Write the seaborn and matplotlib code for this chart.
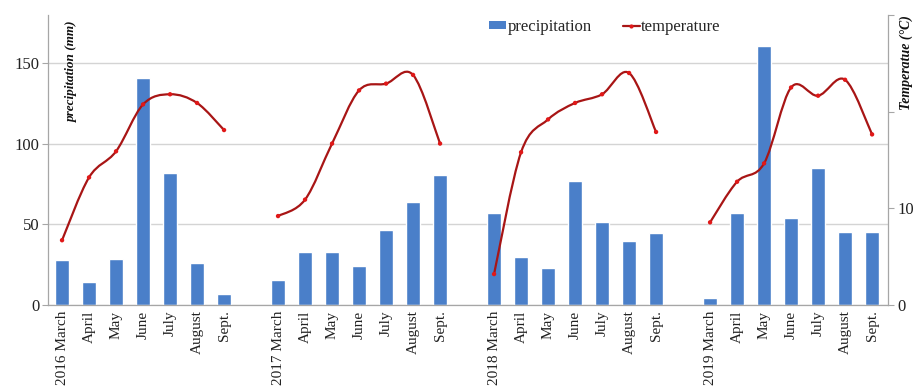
import numpy as np
import pandas as pd
import matplotlib
matplotlib.use("Agg")
import matplotlib.pyplot as plt
from matplotlib.path import Path
from matplotlib.patches import PathPatch, Patch
from matplotlib.lines import Line2D
import seaborn as sns

# ---- data -------------------------------------------------------------
years = ["2016", "2017", "2018", "2019"]
months = ["March", "April", "May", "June", "July", "August", "Sept."]

precip_2016 = [28, 14, 28.5, 141, 82, 26, 6.6]
precip_2017 = [15.5, 33, 33, 24, 46.3, 64, 80.5]
precip_2018 = [56.8, 29.7, 22.7, 76.8, 51.6, 39.7, 44.4]
precip_2019 = [4.5, 56.8, 160.7, 54, 85.3, 45.4, 45.4]

temp_2016 = [6.7, 13.2, 15.9, 20.75, 21.8, 20.9, 18.1]
temp_2017 = [9.2, 10.9, 16.7, 22.2, 22.9, 23.8, 16.7]
temp_2018 = [3.2, 15.8, 19.2, 20.9, 21.8, 24.0, 17.9]
temp_2019 = [8.55, 12.75, 14.65, 22.5, 21.65, 23.3, 17.65]

precip = [precip_2016, precip_2017, precip_2018, precip_2019]
temps = [temp_2016, temp_2017, temp_2018, temp_2019]

# one empty slot separates consecutive years on the x axis
rows = []
for g, yr in enumerate(years):
    for m, mon in enumerate(months):
        rows.append({
            "pos": g * (len(months) + 1) + m,
            "label": f"{yr} {mon}" if m == 0 else mon,
            "precipitation": precip[g][m],
            "temperature": temps[g][m],
            "year": yr,
        })
df = pd.DataFrame(rows)

# ---- style ------------------------------------------------------------
sns.set_style("white")
plt.rcParams["font.family"] = ["Liberation Serif", "DejaVu Serif"]

BAR = "#4a7fc9"
LINE = "#a81515"
MARK = "#e01818"
GRID = "#d4d4d4"
SPINE = "#a6a6a6"

fig = plt.figure(figsize=(9.17, 3.87), dpi=100)
ax = fig.add_axes([48 / 917, 82 / 387, 840 / 917, 290 / 387])
ax2 = ax.twinx()

# precipitation bars
sns.barplot(data=df, x="pos", y="precipitation", native_scale=True,
            width=0.49, color=BAR, saturation=1, ax=ax, zorder=2)

ax.set_xlim(-0.52, 30.59)
ax.set_ylim(0, 180)
ax.set_yticks([0, 50, 100, 150])
ax.yaxis.grid(True, color=GRID, linewidth=1.0, zorder=0)
ax.set_axisbelow(True)
ax.set_xlabel("")
ax.set_ylabel("")

ax.set_xticks(df["pos"])
ax.set_xticklabels(df["label"], rotation=90, fontsize=11, color="#222222")
ax.set_xticks(np.arange(-0.5, 31, 1.0), minor=True)
ax.tick_params(axis="x", which="major", length=0, pad=4)
ax.tick_params(axis="x", which="minor", length=4, color=SPINE, width=0.8)
ax.tick_params(axis="y", length=4, color=SPINE, width=0.8, labelsize=12,
               labelcolor="#222222", pad=2)

for side in ["top", "right"]:
    ax.spines[side].set_visible(False)
for side in ["left", "bottom"]:
    ax.spines[side].set_color(SPINE)
    ax.spines[side].set_linewidth(0.9)

# temperature axis
ax2.set_ylim(0, 30)
ax2.set_yticks([0, 10, 20, 30])
ax2.set_yticklabels(["0", "10", "", ""])
ax2.tick_params(axis="y", length=4, color=SPINE, width=0.8, labelsize=12,
                labelcolor="#222222", pad=3)
for side in ["top", "left", "bottom"]:
    ax2.spines[side].set_visible(False)
ax2.spines["right"].set_color(SPINE)
ax2.spines["right"].set_linewidth(0.9)
ax2.grid(False)


def smooth_path(xs, ys):
    """Catmull-Rom spline through the points, as cubic Bezier segments."""
    pts = np.column_stack([xs, ys]).astype(float)
    ext = np.vstack([pts[0], pts, pts[-1]])
    verts = [pts[0]]
    codes = [Path.MOVETO]
    for i in range(1, len(ext) - 2):
        p0, p1, p2, p3 = ext[i - 1], ext[i], ext[i + 1], ext[i + 2]
        c1 = p1 + (p2 - p0) / 6.0
        c2 = p2 - (p3 - p1) / 6.0
        verts += [c1, c2, p2]
        codes += [Path.CURVE4] * 3
    return Path(verts, codes)


for yr, sub in df.groupby("year"):
    path = smooth_path(sub["pos"].values, sub["temperature"].values)
    ax2.add_patch(PathPatch(path, facecolor="none", edgecolor=LINE,
                            linewidth=1.6, zorder=3))

sns.scatterplot(data=df, x="pos", y="temperature", ax=ax2, color=MARK,
                s=10, marker="o", edgecolor="none", zorder=4, legend=False)
ax2.set_xlabel("")
ax2.set_ylabel("")
ax2.set_xlim(-0.52, 30.59)

# axis titles sit inside the plotting area
fig.text(72 / 917, 1 - 20 / 387, "precipitation (mm)", rotation=90,
         ha="center", va="top", fontsize=9.5, fontweight="bold",
         fontstyle="italic", color="#111111")
fig.text(906 / 917, 1 - 15 / 387, "Temperatue (°C)", rotation=90,
         ha="center", va="top", fontsize=10, fontweight="bold",
         fontstyle="italic", color="#111111")

handles = [
    Patch(facecolor=BAR, edgecolor="none"),
    Line2D([0], [0], color=LINE, linewidth=1.6, marker="o", markersize=3,
           markerfacecolor=MARK, markeredgecolor="none"),
]
fig.legend(handles, ["precipitation", "temperature"], loc="center",
           bbox_to_anchor=(605 / 917, 1 - 27 / 387), ncol=2, frameon=False,
           fontsize=12, handlelength=1.0, handleheight=0.35,
           handletextpad=0.08, columnspacing=1.9)

fig.savefig("out.png", dpi=100)
